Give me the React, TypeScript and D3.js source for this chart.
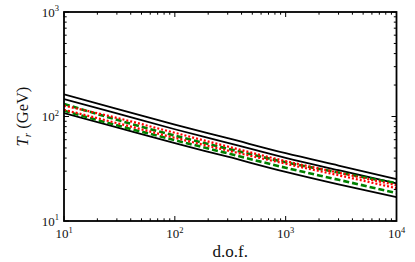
import React from "react";
import * as d3 from "d3";

const dof = [10, 30, 100, 300, 1000, 3000, 10000];
const blackTop = [163, 118, 83.6, 62, 44.5, 33.9, 25.2];
const blackMid = [147, 107, 75.5, 56, 40.2, 30.6, 22.9];
const blackBot = [108, 78.5, 55.5, 41.2, 29.5, 22.4, 16.9];
const redA = [127, 97, 69.8, 51.6, 37.4, 29.0, 22.0];
const redB = [116, 86.5, 62.5, 47.2, 35.3, 27.4, 20.6];
const greenA = [132, 93, 65.5, 49.2, 36.5, 29.1, 23.0];
const greenB = [113.5, 82.4, 59.4, 44.4, 32.3, 24.8, 18.5];

const xTicks = [10, 100, 1000, 10000];
const xTickExp = ["1", "2", "3", "4"];
const yTicks = [10, 100, 1000];
const yTickExp = ["1", "2", "3"];

const W = 415, H = 262;
const L = 64, R = 396.5, T = 12, B = 221;

export default function App() {
  const x = d3.scaleLog().domain([10, 10000]).range([L, R]);
  const y = d3.scaleLog().domain([10, 1000]).range([B, T]);
  const line = d3
    .line<[number, number]>()
    .x((d) => x(d[0]))
    .y((d) => y(d[1]))
    .curve(d3.curveMonotoneX);
  const mk = (vals: number[]) => line(dof.map((d, i) => [d, vals[i]] as [number, number])) || "";

  const minorX: number[] = [];
  for (let e = 1; e < 4; e++) for (let k = 2; k <= 9; k++) minorX.push(k * Math.pow(10, e));
  const minorY: number[] = [];
  for (let e = 1; e < 3; e++) for (let k = 2; k <= 9; k++) minorY.push(k * Math.pow(10, e));

  const font = "'Liberation Serif', 'DejaVu Serif', serif";
  const series = [
    { v: blackBot, c: "#000", w: 1.8, dash: "" },
    { v: blackMid, c: "#000", w: 1.8, dash: "" },
    { v: blackTop, c: "#000", w: 1.8, dash: "" },
    { v: greenB, c: "#008000", w: 2.6, dash: "6,3" },
    { v: greenA, c: "#008000", w: 2.6, dash: "6,3" },
    { v: redB, c: "#ff0000", w: 2.2, dash: "2,2" },
    { v: redA, c: "#ff0000", w: 2.2, dash: "2,2" },
  ];

  return (
    <svg width={W} height={H} style={{ position: "absolute", left: 0, top: 0, background: "#fff" }}>
      <defs>
        <clipPath id="pc">
          <rect x={L} y={T} width={R - L} height={B - T} />
        </clipPath>
      </defs>
      <g clipPath="url(#pc)">
        {series.map((s, i) => (
          <path key={i} d={mk(s.v)} fill="none" stroke={s.c} strokeWidth={s.w} strokeDasharray={s.dash || undefined} />
        ))}
      </g>
      <g stroke="#000" strokeWidth={1}>
        {xTicks.map((t, i) => (
          <g key={"xt" + i}>
            <line x1={x(t)} x2={x(t)} y1={B} y2={B - 5} />
            <line x1={x(t)} x2={x(t)} y1={T} y2={T + 5} />
          </g>
        ))}
        {minorX.map((t, i) => (
          <g key={"xm" + i}>
            <line x1={x(t)} x2={x(t)} y1={B} y2={B - 2.7} />
            <line x1={x(t)} x2={x(t)} y1={T} y2={T + 2.7} />
          </g>
        ))}
        {yTicks.map((t, i) => (
          <g key={"yt" + i}>
            <line x1={L} x2={L + 5} y1={y(t)} y2={y(t)} />
            <line x1={R} x2={R - 5} y1={y(t)} y2={y(t)} />
          </g>
        ))}
        {minorY.map((t, i) => (
          <g key={"ym" + i}>
            <line x1={L} x2={L + 2.7} y1={y(t)} y2={y(t)} />
            <line x1={R} x2={R - 2.7} y1={y(t)} y2={y(t)} />
          </g>
        ))}
      </g>
      <rect x={L} y={T} width={R - L} height={B - T} fill="none" stroke="#000" strokeWidth={1.8} />
      <g fontFamily={font} fill="#111">
        {xTicks.map((t, i) => (
          <text key={"xl" + i} x={x(t)} y={238} textAnchor="middle" fontSize={13}>
            10<tspan fontSize={8.5} dy={-5.5}>{xTickExp[i]}</tspan>
          </text>
        ))}
        {yTicks.map((t, i) => (
          <text key={"yl" + i} x={59} y={y(t) + 4.5} textAnchor="end" fontSize={13}>
            10<tspan fontSize={8.5} dy={-5.5}>{yTickExp[i]}</tspan>
          </text>
        ))}
        <text x={(L + R) / 2} y={257} textAnchor="middle" fontSize={17}>
          d.o.f.
        </text>
        <text transform={`translate(28,${(T + B) / 2}) rotate(-90)`} textAnchor="middle" fontSize={16.5}>
          <tspan fontStyle="italic">T</tspan>
          <tspan fontStyle="italic" fontSize={11} dy={3}>r</tspan>
          <tspan dy={-3}> (GeV)</tspan>
        </text>
      </g>
    </svg>
  );
}
